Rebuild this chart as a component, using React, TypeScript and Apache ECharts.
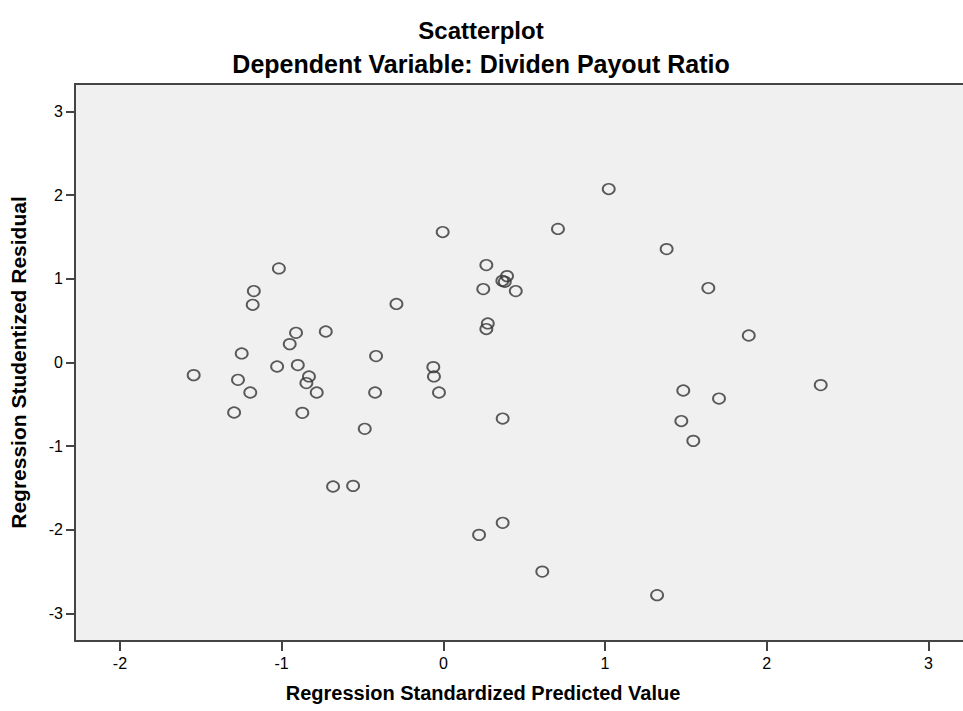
import React, { useEffect, useRef } from "react";
import * as echarts from "echarts";

const predicted: number[] = [
  -1.017, -1.172, -1.179, -0.29, -0.911, -0.727, -0.95, -1.247, -0.416, -1.028,
  -0.9, -0.062, -0.058, -1.544, -1.27, -0.831, -0.847, -1.194, -0.783, -0.422,
  -0.027, -1.294, -0.872, -0.486, -0.682, -0.558, -0.004, 0.266, 0.394, 0.365,
  0.38, 0.247, 0.448, 0.275, 0.266, 1.023, 1.381, 1.639, 1.889, 0.709,
  1.484, 1.705, 1.472, 1.546, 2.334, 0.367, 0.221, 0.367, 0.612, 1.322,
];
const residual: number[] = [
  1.125, 0.854, 0.69, 0.7, 0.355, 0.371, 0.22, 0.108, 0.077, -0.048,
  -0.031, -0.055, -0.167, -0.151, -0.207, -0.167, -0.246, -0.359, -0.359, -0.359,
  -0.359, -0.598, -0.602, -0.793, -1.483, -1.475, 1.56, 1.165, 1.033, 0.977,
  0.965, 0.878, 0.854, 0.467, 0.4, 2.074, 1.356, 0.89, 0.323, 1.597,
  -0.335, -0.431, -0.7, -0.937, -0.27, -0.67, -2.061, -1.917, -2.5, -2.782,
];
const xTicks: number[] = [-2, -1, 0, 1, 2, 3];
const yTicks: number[] = [-3, -2, -1, 0, 1, 2, 3];
const titleText = "Scatterplot";
const subtitleText = "Dependent Variable: Dividen Payout Ratio";
const xTitle = "Regression Standardized Predicted Value";
const yTitle = "Regression Studentized Residual";

const FONT = "'Liberation Sans', Arial, sans-serif";

export default function App() {
  const ref = useRef<HTMLDivElement>(null);
  useEffect(() => {
    document.body.style.margin = "0";
    if (!ref.current) return;
    const chart = echarts.init(ref.current, undefined, { renderer: "svg" });
    const data = predicted.map((x, i) => [x, residual[i]]);
    const boldText = (text: string, x: number, y: number, size: number) => ({
      type: "text",
      x,
      y,
      style: {
        text,
        fontFamily: FONT,
        fontSize: size,
        fontWeight: "bold",
        fill: "#000",
        align: "center",
        verticalAlign: "middle",
      },
    });
    chart.setOption({
      animation: false,
      backgroundColor: "#ffffff",
      graphic: [
        boldText(titleText, 481, 30, 24),
        boldText(subtitleText, 481, 64, 25),
        boldText(xTitle, 483, 693, 20),
      ],
      grid: {
        left: 75,
        top: 84,
        right: 0,
        bottom: 70,
        show: true,
        backgroundColor: "#f0f0f0",
        borderWidth: 0,
        containLabel: false,
        outerBoundsMode: "none",
      },
      xAxis: [
        {
          type: "value",
          min: -2.278,
          max: 3.214,
          position: "bottom",
          splitLine: { show: false },
          axisLine: { show: true, onZero: false, lineStyle: { color: "#444", width: 2 } },
          axisTick: { show: true, customValues: xTicks, length: 10, lineStyle: { color: "#444", width: 2 } },
          axisLabel: {
            customValues: xTicks,
            margin: 14,
            fontFamily: FONT,
            fontSize: 16,
            color: "#000",
          },
        },
        {
          type: "value",
          min: -2.278,
          max: 3.214,
          position: "top",
          splitLine: { show: false },
          axisLine: { show: true, onZero: false, lineStyle: { color: "#444", width: 2 } },
          axisTick: { show: false },
          axisLabel: { show: false },
        },
      ],
      yAxis: {
        type: "value",
        min: -3.33,
        max: 3.33,
        name: yTitle,
        nameLocation: "middle",
        nameGap: 46,
        nameTextStyle: { fontFamily: FONT, fontSize: 21, fontWeight: "bold", color: "#000" },
        splitLine: { show: false },
        axisLine: { show: true, onZero: false, lineStyle: { color: "#444", width: 2 } },
        axisTick: { show: true, customValues: yTicks, length: 9, lineStyle: { color: "#444", width: 2 } },
        axisLabel: {
          customValues: yTicks,
          margin: 12,
          fontFamily: FONT,
          fontSize: 16,
          color: "#000",
        },
      },
      series: [
        {
          type: "scatter",
          xAxisIndex: 0,
          data,
          symbol: "circle",
          symbolSize: [12, 10.5],
          itemStyle: { color: "transparent", borderColor: "#333", borderWidth: 1.8 },
          clip: false,
        },
      ],
    });
    return () => chart.dispose();
  }, []);
  return <div ref={ref} style={{ width: 963, height: 711 }} />;
}
